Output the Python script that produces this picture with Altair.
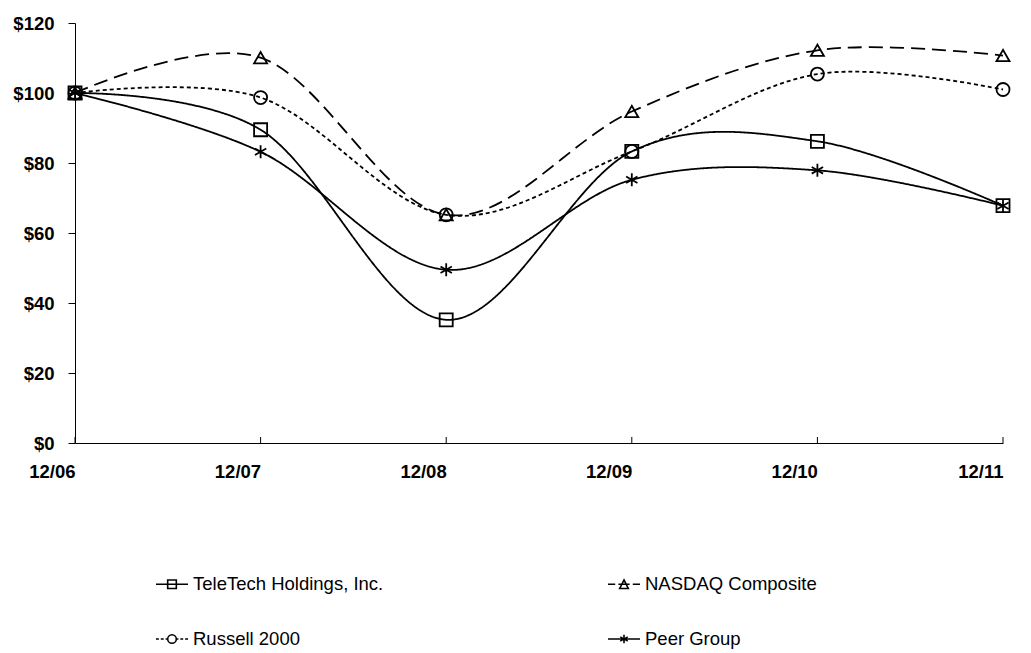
import altair as alt
import pandas as pd

dates = ["12/06", "12/07", "12/08", "12/09", "12/10", "12/11"]
series_names = ["TeleTech Holdings, Inc.", "NASDAQ Composite", "Russell 2000", "Peer Group"]
teletech = [100, 89.5, 35.2, 83.3, 86.2, 67.8]
nasdaq = [100, 110.1, 65.2, 94.7, 112.2, 110.7]
russell = [100, 98.7, 65.2, 83.3, 105.4, 101.0]
peer = [100, 83.2, 49.5, 75.2, 77.9, 67.8]
y_ticks = [0, 20, 40, 60, 80, 100, 120]

rows = []
for name, vals in zip(series_names, [teletech, nasdaq, russell, peer]):
    for d, v in zip(dates, vals):
        rows.append({"date": d, "value": v, "series": name})
df = pd.DataFrame(rows)
ticks_df = pd.DataFrame({"date": dates})

W, H = 928, 420
FONT = "Liberation Sans"

asterisk = "M0,-1V1M-0.87,-0.5L0.87,0.5M-0.87,0.5L0.87,-0.5"
marker_shapes = ["square", "triangle-up", "circle", asterisk]

# legend symbols: line + marker drawn as one path
m = 0.27
leg_tele = f"M-1,0H1M-{m},-{m}H{m}V{m}H-{m}Z"
leg_nas = f"M-1,0H-0.55M-0.35,0H0.35M0.55,0H1M0,-{m}L{m},{m}H-{m}Z"
leg_rus = (f"M-1,0H-0.82M-0.7,0H-0.52M-0.4,0H-0.25M0.25,0H0.4M0.52,0H0.7M0.82,0H1"
           f"M{m},0A{m},{m} 0 1,1 -{m},0A{m},{m} 0 1,1 {m},0Z")
leg_peer = f"M-1,0H1M0,-{m}V{m}M-{m*0.87},-{m*0.5}L{m*0.87},{m*0.5}M-{m*0.87},{m*0.5}L{m*0.87},-{m*0.5}"
legend_shapes = [leg_tele, leg_nas, leg_rus, leg_peer]

x_enc = alt.X("date:O", sort=dates, scale=alt.Scale(type="point", padding=0),
              axis=alt.Axis(title=None, labelAngle=0, ticks=False, domainColor="black",
                            labelFont=FONT, labelFontWeight="bold", labelFontSize=18.5,
                            labelColor="black", labelPadding=19, labelBaseline="top",
                            grid=False, labelOverlap=False, labelBound=False))
y_enc = alt.Y("value:Q", scale=alt.Scale(domain=[0, 120], nice=False),
              axis=alt.Axis(title=None, values=y_ticks, labelExpr="'$' + datum.value",
                            tickSize=7, tickColor="black", domainColor="black",
                            labelFont=FONT, labelFontWeight="bold", labelFontSize=18.5,
                            labelColor="black", labelPadding=14, grid=False))

lines = alt.Chart(df).mark_line(interpolate="cardinal", tension=0, color="black",
                                strokeWidth=1.8).encode(
    x=x_enc, y=y_enc,
    detail="series:N",
    strokeDash=alt.StrokeDash("series:N",
                              scale=alt.Scale(domain=series_names,
                                              range=[[1, 0], [14, 7], [4, 3], [1, 0]]),
                              legend=None),
)

points = alt.Chart(df).mark_point(filled=False, color="black", size=170,
                                  strokeWidth=1.8, opacity=1).encode(
    x=alt.X("date:O", sort=dates),
    y="value:Q",
    shape=alt.Shape("series:N", scale=alt.Scale(domain=series_names, range=marker_shapes),
                    legend=None),
)

xticks = alt.Chart(ticks_df).mark_rule(color="black", strokeWidth=1).encode(
    x=alt.X("date:O", sort=dates),
    y=alt.value(H - 6), y2=alt.value(H),
)

legend_layer = alt.Chart(df).mark_point(filled=False, color="black", size=1024,
                                        opacity=0).encode(
    x=alt.X("date:O", sort=dates),
    y="value:Q",
    shape=alt.Shape("series:N",
                    scale=alt.Scale(domain=series_names, range=legend_shapes),
                    legend=alt.Legend(title=None, orient="none", legendX=80, legendY=544,
                                      columns=2, columnPadding=220, rowPadding=28,
                                      gridAlign="all", direction="horizontal",
                                      symbolOpacity=1, symbolStrokeColor="black",
                                      symbolFillColor="transparent", symbolStrokeWidth=1.6,
                                      symbolSize=1024, labelFont=FONT, labelFontSize=18.5,
                                      labelColor="black", labelOffset=4, labelLimit=400)),
)

chart = alt.layer(xticks, lines, points, legend_layer).resolve_scale(
    shape="independent"
).properties(
    width=W, height=H,
    autosize=alt.AutoSizeParams(type="none"),
    padding={"left": 67, "top": 15, "right": 20, "bottom": 210},
).configure_view(stroke=None)

chart.save("out.html", embed_options={"renderer": "svg", "actions": False})
